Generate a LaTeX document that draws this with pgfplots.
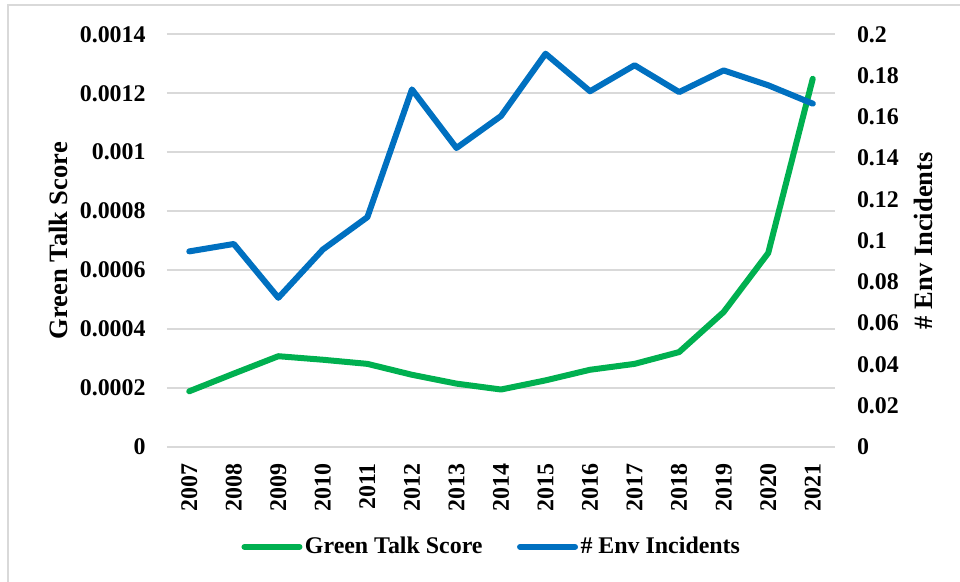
\documentclass[border=0pt]{standalone}
\usepackage{fontspec}
\setmainfont{Liberation Serif}
\usepackage{pgfplots}
\pgfplotsset{compat=1.18}
\definecolor{talkgreen}{HTML}{00B050}
\definecolor{envblue}{HTML}{0070C0}
\definecolor{gridgray}{HTML}{D9D9D9}

\begin{document}
\begin{tikzpicture}
\pgfplotsset{
  chartbase/.style={
    scale only axis, width=334bp, height=206.35bp,
    at={(0,0)}, anchor=south west,
    xmin=-0.5, xmax=14.5,
    major tick length=0pt,
    scaled y ticks=false,
    /pgf/number format/assume math mode=true,
    tick label style={font=\fontsize{12}{14}\selectfont\bfseries},
    axis line style={draw=none},
  },
  seriesline/.style={line width=3bp, line join=round, line cap=round},
}
% left axis: green talk score, grid and year labels
\begin{axis}[chartbase,
  ymin=0, ymax=0.0014,
  ytick={0,0.0002,0.0004,0.0006,0.0008,0.001,0.0012,0.0014},
  yticklabels={0,0.0002,0.0004,0.0006,0.0008,0.001,0.0012,0.0014},
  ymajorgrids, major grid style={gridgray, line width=1bp},
  xtick={0,1,2,3,4,5,6,7,8,9,10,11,12,13,14},
  xticklabels={2007,2008,2009,2010,2011,2012,2013,2014,2015,2016,2017,2018,2019,2020,2021},
  xticklabel style={rotate=90, anchor=east, inner sep=0pt},
  xticklabel shift=8bp,
  yticklabel style={anchor=east, inner sep=0pt},
  yticklabel shift=10.5bp,
  ylabel={Green Talk Score},
  every axis y label/.style={at={(axis description cs:-0.163,0.5)}, rotate=90, anchor=center,
    font=\fontsize{13.3}{16}\selectfont\bfseries},
]
\addplot[talkgreen, seriesline] coordinates {
  (0,0.000189) (1,0.000249) (2,0.000308) (3,0.000296) (4,0.000282)
  (5,0.000245) (6,0.000215) (7,0.000195) (8,0.000226) (9,0.000262)
  (10,0.000282) (11,0.000322) (12,0.000458) (13,0.000658) (14,0.001249)
};
\end{axis}
% right axis: environmental incidents and legend
\begin{axis}[chartbase,
  ymin=0, ymax=0.2,
  ytick={0,0.02,0.04,0.06,0.08,0.1,0.12,0.14,0.16,0.18,0.2},
  yticklabels={0,0.02,0.04,0.06,0.08,0.1,0.12,0.14,0.16,0.18,0.2},
  axis y line*=right, axis x line=none,
  yticklabel style={anchor=west, inner sep=0pt},
  yticklabel shift=10.8bp,
  ylabel={\# Env Incidents},
  every axis y label/.style={at={(axis description cs:1.1317,0.5)}, rotate=90, anchor=center,
    font=\fontsize{13.3}{16}\selectfont\bfseries},
  legend columns=2,
  legend image code/.code={\draw[#1] (0bp,0bp) -- (27.5bp,0bp);},
  legend style={at={(0.4865,-0.242)}, anchor=center, draw=none, fill=none,
    font=\fontsize{12}{14}\selectfont\bfseries,
    /tikz/every even column/.append style={column sep=16bp},
    nodes={inner sep=1.25bp}},
]
\addlegendimage{talkgreen, seriesline}
\addlegendentry{Green Talk Score}
\addplot[envblue, seriesline] coordinates {
  (0,0.0948) (1,0.0984) (2,0.0723) (3,0.0957) (4,0.1114)
  (5,0.1733) (6,0.1449) (7,0.1604) (8,0.1906) (9,0.1724)
  (10,0.1850) (11,0.1720) (12,0.1825) (13,0.1753) (14,0.1664)
};
\addlegendentry{\# Env Incidents}
\end{axis}
% chart frame
\draw[gridgray, line width=1bp] (-79.5bp,221bp) rectangle (401.5bp,-71.5bp);
\pgfresetboundingbox
\useasboundingbox (-83.5bp,-67.5bp) rectangle (396.5bp,223.5bp);
\end{tikzpicture}
\end{document}
